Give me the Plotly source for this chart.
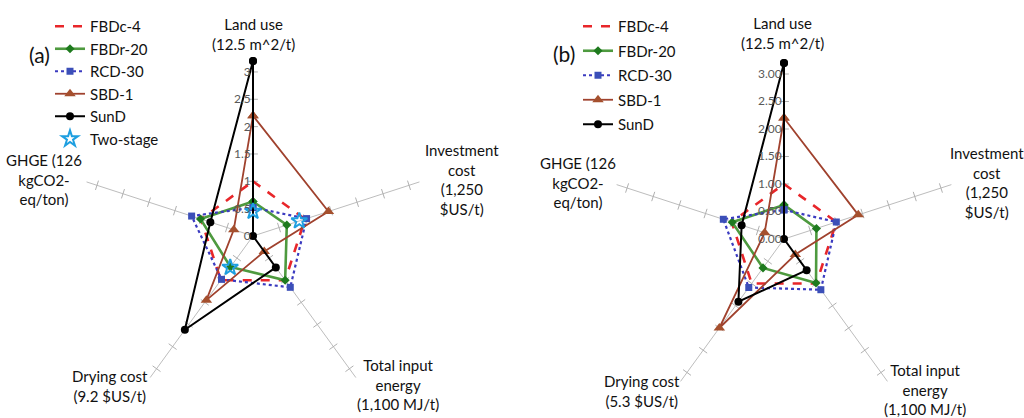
import plotly.graph_objects as go

# ---------------- data ----------------
categories = ["Land use", "Investment cost", "Total input energy", "Drying cost", "GHGE"]

# chart (a)
a_FBDc4 = [1.0, 1.0, 1.0, 1.0, 1.0]
a_FBDr20 = [0.63, 0.65, 1.0, 0.70, 1.01]
a_RCD30 = [0.52, 1.03, 1.16, 0.98, 1.18]
a_SBD1 = [2.2, 1.45, 0.35, 1.45, 0.37]
a_SunD = [3.2, 0.0, 0.71, 2.12, 0.82]
a_two_cats = ["Land use", "Investment cost", "Drying cost"]
a_two_vals = [0.45, 0.89, 0.71]

# chart (b)
b_FBDc4 = [1.0, 1.0, 1.0, 1.0, 1.0]
b_FBDr20 = [0.62, 0.62, 0.99, 0.65, 0.99]
b_RCD30 = [0.53, 1.0, 1.14, 1.09, 1.16]
b_SBD1 = [2.2, 1.42, 0.35, 2.0, 0.37]
b_SunD = [3.2, 0.0, 0.70, 1.41, 0.81]

tick_vals = [0, 0.5, 1, 1.5, 2, 2.5, 3]
a_tick_text = ["0", "0.5", "1", "1.5", "2", "2.5", "3"]
b_tick_text = ["0.00", "0.50", "1.00", "1.50", "2.00", "2.50", "3.00"]
radial_max = 3.2

a_labels = ["Land use<br>(12.5 m^2/t)", "Investment<br>cost<br>(1,250<br>$US/t)",
            "Total input<br>energy<br>(1,100 MJ/t)", "Drying cost<br>(9.2 $US/t)",
            "GHGE (126<br>kgCO2-<br>eq/ton)"]
b_labels = ["Land use<br>(12.5 m^2/t)", "Investment<br>cost<br>(1,250<br>$US/t)",
            "Total input<br>energy<br>(1,100 MJ/t)", "Drying cost<br>(5.3 $US/t)",
            "GHGE (126<br>kgCO2-<br>eq/ton)"]

FONT = "Lato"
W, H = 1024, 418


def closed(v):
    return list(v) + [v[0]]


cats_closed = closed(categories)

styles = {
    "FBDc-4": dict(line=dict(color="#E8262A", width=2.6, dash="dash"), mode="lines"),
    "FBDr-20": dict(line=dict(color="#4E9A3F", width=2.6),
                    marker=dict(symbol="diamond", size=7, color="#1E7A1E"), mode="lines+markers"),
    "RCD-30": dict(line=dict(color="#3B3BC0", width=2.2, dash="dot"),
                   marker=dict(symbol="square", size=7, color="#3B4FB8"), mode="lines+markers"),
    "SBD-1": dict(line=dict(color="#A0422E", width=1.8),
                  marker=dict(symbol="triangle-up", size=10, color="#A5502E"), mode="lines+markers"),
    "SunD": dict(line=dict(color="#000000", width=2.0),
                 marker=dict(symbol="circle", size=8, color="#000000"), mode="lines+markers"),
}

fig = go.Figure()


def add_ticks(polar):
    rs, ths, angs = [], [], []
    for i, c in enumerate(categories):
        for t in tick_vals[1:]:
            rs.append(t)
            ths.append(c)
            angs.append(72 * i)
    fig.add_trace(go.Scatterpolar(
        r=rs, theta=ths, mode="markers", subplot=polar, showlegend=False, hoverinfo="skip",
        marker=dict(symbol="line-ew", size=7, angle=angs, color="#B0B0B0",
                    line=dict(color="#B0B0B0", width=1))))


def add_series(polar, legend, prefix, data):
    for name, vals in data:
        st = styles[name]
        kw = dict(r=closed(vals), theta=cats_closed, name=name, subplot=polar,
                  legend=legend, legendgroup=prefix + name, mode=st["mode"], line=st["line"])
        if "marker" in st:
            kw["marker"] = st["marker"]
        fig.add_trace(go.Scatterpolar(**kw))


add_ticks("polar")
add_series("polar", "legend", "a_", [("FBDc-4", a_FBDc4), ("FBDr-20", a_FBDr20), ("RCD-30", a_RCD30),
                                     ("SBD-1", a_SBD1), ("SunD", a_SunD)])
fig.add_trace(go.Scatterpolar(r=a_two_vals, theta=a_two_cats, name="Two-stage", mode="markers",
                              subplot="polar", legend="legend", legendgroup="a_two",
                              marker=dict(symbol="star-open", size=12, color="#1E9FE0",
                                          line=dict(width=2, color="#1E9FE0"))))

add_ticks("polar2")
add_series("polar2", "legend2", "b_", [("FBDc-4", b_FBDc4), ("FBDr-20", b_FBDr20), ("RCD-30", b_RCD30),
                                       ("SBD-1", b_SBD1), ("SunD", b_SunD)])


def polar_layout(cx, cy, rad, ticktext):
    return dict(
        domain=dict(x=[(cx - rad) / W, (cx + rad) / W], y=[(H - cy - rad) / H, (H - cy + rad) / H]),
        bgcolor="white",
        radialaxis=dict(range=[0, radial_max], tickvals=tick_vals, ticktext=ticktext, showgrid=False,
                        showline=False, ticks="", angle=90, side="counterclockwise", tickangle=90,
                        tickfont=dict(family=FONT, size=12, color="#595959")),
        angularaxis=dict(categoryorder="array", categoryarray=categories, direction="clockwise",
                         rotation=90, showgrid=True, gridcolor="#BDBDBD", gridwidth=1,
                         showline=False, showticklabels=False, ticks=""),
    )


fig.update_layout(
    width=W, height=H, margin=dict(l=0, r=0, t=0, b=0), paper_bgcolor="white",
    font=dict(family=FONT, size=15, color="#111111"),
    polar=polar_layout(253, 236, 175, a_tick_text),
    polar2=polar_layout(784, 239, 176, b_tick_text),
    legend=dict(x=50 / W, y=1 - 10 / H, xanchor="left", yanchor="top", bgcolor="rgba(0,0,0,0)",
                font=dict(family=FONT, size=15), tracegroupgap=0, itemwidth=30),
    legend2=dict(x=578 / W, y=1 - 10 / H, xanchor="left", yanchor="top", bgcolor="rgba(0,0,0,0)",
                 font=dict(family=FONT, size=15), tracegroupgap=2, itemwidth=30),
    showlegend=True,
)

a_pos = [(253, 33.5), (462, 179.5), (398, 384.5), (110, 385.5), (44, 179.5)]
b_pos = [(782, 33), (987, 182.5), (925, 389), (642, 391), (578, 182.5)]
anns = []
for labels, pos in ((a_labels, a_pos), (b_labels, b_pos)):
    for t, (x, y) in zip(labels, pos):
        anns.append(dict(text=t, x=x / W, y=1 - y / H, xref="paper", yref="paper", showarrow=False,
                         xanchor="center", yanchor="middle", align="center",
                         font=dict(family=FONT, size=15, color="#111111")))
anns.append(dict(text="(a)", x=39 / W, y=1 - 54 / H, xref="paper", yref="paper", showarrow=False,
                 xanchor="center", yanchor="middle",
                 font=dict(family=FONT, size=21, color="#111111")))
anns.append(dict(text="(b)", x=564 / W, y=1 - 53 / H, xref="paper", yref="paper", showarrow=False,
                 xanchor="center", yanchor="middle",
                 font=dict(family=FONT, size=21, color="#111111")))
fig.update_layout(annotations=anns)

fig.write_html("out.html", config={"displayModeBar": False},
               post_script="document.body.style.margin='0px';")
